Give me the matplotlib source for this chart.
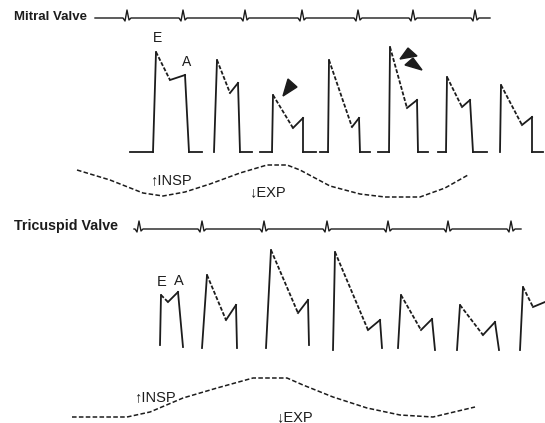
import numpy as np
import matplotlib
matplotlib.use("Agg")
import matplotlib.pyplot as plt

# ---------------- data (image pixel units) ----------------
# Mitral valve Doppler beats
mitral_base_start = [130, 214, 260, 320, 378, 438, 500]
mitral_onset      = [153, 214, 272, 328, 389, 446, 500]
mitral_E_x        = [156, 217, 273, 329, 390, 447, 501]
mitral_E_y        = [52, 60, 95, 60, 47, 77, 85]
mitral_nadir_x    = [170, 230, 293, 352, 407, 462, 522]
mitral_nadir_y    = [80, 93, 128, 127, 108, 107, 125]
mitral_A_x        = [185, 238, 303, 359, 417, 470, 532]
mitral_A_y        = [75, 83, 118, 118, 100, 100, 117]
mitral_close_x    = [189, 240, 303, 360, 418, 473, 532]
mitral_base_end   = [202, 252, 316, 370, 428, 487, 543]
mitral_baseline   = 152

# Tricuspid valve Doppler beats
tric_onset    = [160, 202, 266, 333, 398, 457, 520]
tric_bottom0  = [345, 348, 348, 350, 348, 350, 350]
tric_E_x      = [161, 207, 271, 335, 401, 460, 523]
tric_E_y      = [295, 275, 250, 252, 295, 305, 287]
tric_nadir_x  = [168, 226, 298, 368, 421, 483, 533]
tric_nadir_y  = [302, 320, 313, 330, 330, 335, 307]
tric_A_x      = [178, 236, 308, 380, 432, 495, 545]
tric_A_y      = [292, 305, 300, 320, 319, 322, 302]
tric_close_x  = [183, 237, 309, 382, 435, 499, np.nan]
tric_bottom1  = [347, 348, 345, 348, 350, 350, np.nan]

# ECG strips
ecg_mitral_qrs = [127, 183, 245, 302, 358, 413, 475]
ecg_mitral_span = [95, 490]
ecg_mitral_base = 18
ecg_tric_qrs = [139, 202, 264, 327, 388, 448, 511]
ecg_tric_span = [134, 521]
ecg_tric_base = 229

# Respiration curves
resp_mitral_x = [77, 110, 143, 163, 185, 210, 240, 267, 287, 300, 315, 330, 360, 385, 420, 445, 468]
resp_mitral_y = [170, 180, 193, 196, 192, 184, 173, 165, 165, 170, 178, 186, 194, 197, 197, 188, 175]
resp_tric_x = [72, 127, 150, 183, 217, 253, 287, 303, 333, 367, 400, 433, 475]
resp_tric_y = [417, 417, 412, 398, 388, 378, 378, 385, 397, 408, 415, 417, 407]

# Arrowheads (triangles) on mitral trace
arrow_tris = [
    [(283, 96), (288, 79), (297, 87)],
    [(400, 59), (408, 48), (417, 56)],
    [(405, 65), (413, 58), (422, 70)],
]

INK = "#1c1c1c"
FONT = ["Liberation Sans", "DejaVu Sans"]

fig = plt.figure(figsize=(5.45, 4.23), dpi=100)
ax = fig.add_axes([0, 0, 1, 1])
ax.set_xlim(0, 545)
ax.set_ylim(423, 0)
ax.axis("off")

lw = 1.3
dash = (0, (2.2, 1.0))

# ---- mitral beats ----
b = mitral_baseline
for i in range(len(mitral_onset)):
    if mitral_base_start[i] < mitral_onset[i]:
        ax.plot([mitral_base_start[i], mitral_onset[i]], [b, b], color=INK, lw=lw)
    ax.plot([mitral_onset[i], mitral_E_x[i]], [b, mitral_E_y[i]], color=INK, lw=lw)
    ax.plot([mitral_E_x[i], mitral_nadir_x[i]], [mitral_E_y[i], mitral_nadir_y[i]],
            color=INK, lw=lw, ls=dash)
    ax.plot([mitral_nadir_x[i], mitral_A_x[i]], [mitral_nadir_y[i], mitral_A_y[i]],
            color=INK, lw=lw)
    ax.plot([mitral_A_x[i], mitral_close_x[i]], [mitral_A_y[i], b], color=INK, lw=lw)
    ax.plot([mitral_close_x[i], mitral_base_end[i]], [b, b], color=INK, lw=lw)

# ---- tricuspid beats ----
for i in range(len(tric_onset)):
    ax.plot([tric_onset[i], tric_E_x[i]], [tric_bottom0[i], tric_E_y[i]], color=INK, lw=lw)
    ax.plot([tric_E_x[i], tric_nadir_x[i]], [tric_E_y[i], tric_nadir_y[i]],
            color=INK, lw=lw, ls=dash)
    ax.plot([tric_nadir_x[i], tric_A_x[i]], [tric_nadir_y[i], tric_A_y[i]], color=INK, lw=lw)
    if not np.isnan(tric_close_x[i]):
        ax.plot([tric_A_x[i], tric_close_x[i]], [tric_A_y[i], tric_bottom1[i]], color=INK, lw=lw)

# ---- ECG strips ----
qrs_dx = [-4, -2, 0, 2, 4]
qrs_dy = [0, 3, -8, 2, 0]

def ecg(qrs, span, base):
    xs, ys = [span[0]], [base]
    for q in qrs:
        for dx, dy in zip(qrs_dx, qrs_dy):
            xs.append(q + dx)
            ys.append(base + dy)
    xs.append(span[1])
    ys.append(base)
    ax.plot(xs, ys, color=INK, lw=1.0)

ecg(ecg_mitral_qrs, ecg_mitral_span, ecg_mitral_base)
ecg(ecg_tric_qrs, ecg_tric_span, ecg_tric_base)

# ---- respiration curves ----
ax.plot(resp_mitral_x, resp_mitral_y, color=INK, lw=1.1, ls=(0, (3, 1.5)))
ax.plot(resp_tric_x, resp_tric_y, color=INK, lw=1.1, ls=(0, (3, 1.5)))

# ---- arrowheads ----
for tri in arrow_tris:
    ax.add_patch(plt.Polygon(tri, closed=True, color=INK))

# ---- text ----
ax.text(14, 17, "Mitral Valve", fontsize=9.5, fontweight="bold", family=FONT,
        ha="left", va="center", color=INK)
ax.text(14, 226, "Tricuspid Valve", fontsize=10.3, fontweight="bold", family=FONT,
        ha="left", va="center", color=INK)
ax.text(158, 38, "E", fontsize=10, family=FONT, ha="center", va="center", color=INK)
ax.text(187, 62, "A", fontsize=10, family=FONT, ha="center", va="center", color=INK)
ax.text(162, 282, "E", fontsize=10.5, family=FONT, ha="center", va="center", color=INK)
ax.text(179, 281, "A", fontsize=10.5, family=FONT, ha="center", va="center", color=INK)
ax.text(150, 180, "↑INSP", fontsize=10.5, family=FONT, ha="left", va="center", color=INK)
ax.text(249, 192, "↓EXP", fontsize=10.5, family=FONT, ha="left", va="center", color=INK)
ax.text(134, 397, "↑INSP", fontsize=10.5, family=FONT, ha="left", va="center", color=INK)
ax.text(276, 417, "↓EXP", fontsize=10.5, family=FONT, ha="left", va="center", color=INK)

fig.savefig("out.png", dpi=100, facecolor="white")
